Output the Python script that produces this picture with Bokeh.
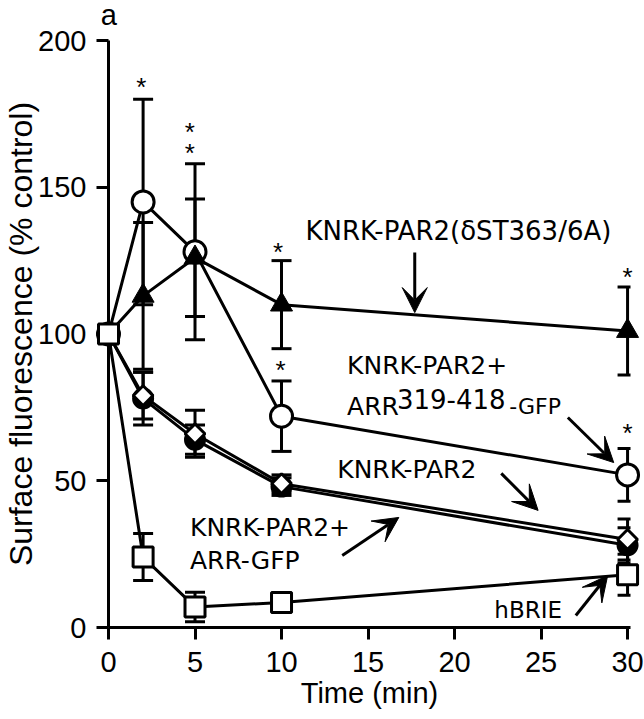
import numpy as np
from bokeh.plotting import figure
from bokeh.models import (Range1d, FixedTicker, Whisker, TeeHead, ColumnDataSource,
                          Label, Arrow, VeeHead)
from bokeh.core.properties import value
from bokeh.embed import file_html
from bokeh.resources import INLINE

# ---------------- data ----------------
time_min = [0, 2, 5, 10, 30]
x_ticks = [0, 5, 10, 15, 20, 25, 30]
y_ticks = [0, 50, 100, 150, 200]

arr319_mean = [100, 145, 128, 72, 52]     # KNRK-PAR2 + ARR319-418-GFP (open circle)
arr319_err = [0, 35, 30, 12, 9]
dst_mean = [100, 113, 126, 110, 101]      # KNRK-PAR2(dST363/6A) (filled triangle)
dst_err = [0, 25, 20, 15, 15]
arrgfp_mean = [100, 79, 66, 49, 30]       # KNRK-PAR2 + ARR-GFP (open diamond)
arrgfp_err = [0, 8, 8, 3, 7]
par2_mean = [100, 78, 64, 48, 28]         # KNRK-PAR2 (filled circle)
par2_err = [0, 9, 5, 3, 6]
hbrie_mean = [100, 24, 7, 8.5, 18]        # hBRIE (open square)
hbrie_err = [0, 8, 5, 3, 7]

star_t = [1.9, 4.7, 4.7, 9.8, 9.95, 30, 30]
star_v = [185.7, 170.4, 163.5, 129.5, 89.3, 121, 68]

FONT_TICK = "Liberation Sans"
FONT_NOTE = "DejaVu Sans"

p = figure(width=644, height=719, output_backend="svg", toolbar_location=None,
           x_range=Range1d(0, 30.17), y_range=Range1d(0, 200),
           min_border_left=105, min_border_right=14, min_border_top=40, min_border_bottom=92,
           background_fill_color="white", border_fill_color="white")
p.outline_line_color = None
p.grid.visible = False

for ax in (p.xaxis[0], p.yaxis[0]):
    ax.axis_line_width = 3
    ax.major_tick_line_width = 3
    ax.major_tick_out = 12
    ax.major_tick_in = 0
    ax.minor_tick_out = 0
    ax.minor_tick_in = 0
    ax.major_label_text_font = FONT_TICK
    ax.major_label_text_font_size = "29px"
    ax.major_label_text_color = "black"
    ax.axis_label_text_font = FONT_TICK
    ax.axis_label_text_font_style = "normal"
    ax.axis_label_text_color = "black"

p.xaxis.ticker = FixedTicker(ticks=x_ticks)
p.yaxis.ticker = FixedTicker(ticks=y_ticks)
p.xaxis.axis_label = "Time (min)"
p.xaxis.axis_label_text_font_size = "29px"
p.xaxis.major_label_standoff = 12
p.xaxis.axis_label_standoff = 2
p.yaxis.axis_label = "Surface fluorescence (% control)"
p.yaxis.axis_label_text_font_size = "32px"
p.yaxis.major_label_standoff = 10
p.yaxis.axis_label_standoff = -4

series = [
    (par2_mean, par2_err, dict(marker="circle", size=20, fill_color="black", line_color="black", line_width=2)),
    (arrgfp_mean, arrgfp_err, dict(marker="square", size=14, angle=np.pi / 4, fill_color="white", line_color="black", line_width=3)),
    (arr319_mean, arr319_err, dict(marker="circle", size=22, fill_color="white", line_color="black", line_width=3)),
    (dst_mean, dst_err, dict(marker="triangle", size=22, fill_color="black", line_color="black", line_width=1)),
    (hbrie_mean, hbrie_err, dict(marker="square", size=20, fill_color="white", line_color="black", line_width=3)),
]

# connecting lines
for mean, err, st in series:
    p.line(time_min, mean, line_color="black", line_width=3)

# error bars
for mean, err, st in series:
    b = [t for t, e in zip(time_min, err) if e > 0]
    up = [m + e for m, e in zip(mean, err) if e > 0]
    lo = [m - e for m, e in zip(mean, err) if e > 0]
    src = ColumnDataSource(dict(base=b, upper=up, lower=lo))
    w = Whisker(source=src, base="base", upper="upper", lower="lower", dimension="height",
                line_width=3, line_color="black",
                upper_head=TeeHead(size=20, line_width=3, line_color="black"),
                lower_head=TeeHead(size=20, line_width=3, line_color="black"))
    p.add_layout(w)

# markers
for mean, err, st in series:
    p.scatter(time_min, mean, level="overlay", **st)

# significance stars
p.text(star_t, star_v, text=["*"] * len(star_t), text_font=value(FONT_TICK),
       text_font_size="26px", text_align="center", text_baseline="middle",
       y_offset=5, text_color="black", level="overlay")

# panel letter (drawn above the frame)
p.text([-0.45], [206.1], text=["a"], text_font=value(FONT_TICK), text_font_size="29px",
       text_align="left", text_baseline="alphabetic", y_offset=-8,
       text_color="black", level="overlay")


def note(x, y, txt, size="25px"):
    p.add_layout(Label(x=x, y=y, y_offset=8, text=txt, text_font=FONT_NOTE, text_font_size=size,
                       text_baseline="alphabetic", text_align="left", text_color="black"))


def arrow(x0, y0, x1, y1):
    p.add_layout(Arrow(end=VeeHead(size=25, fill_color="black", line_color="black", line_width=1),
                       x_start=x0, y_start=y0, x_end=x1, y_end=y1,
                       line_width=3, line_color="black"))


note(11.38, 132.5, "KNRK-PAR2(\u03b4ST363/6A)", size="26px")
arrow(17.70, 127.8, 17.70, 107.3)

note(13.79, 86.5, "KNRK-PAR2+")
note(13.79, 72.7, "ARR")
note(16.67, 75.0, "319-418", size="26px")
note(23.16, 72.7, "-GFP", size="22px")
arrow(26.55, 71.55, 29.2, 56.2)

note(13.22, 51.1, "KNRK-PAR2")
arrow(22.70, 52.5, 24.83, 39.9)

note(4.71, 31.3, "KNRK-PAR2+")
note(4.71, 20.1, "ARR-GFP")
arrow(13.51, 24.5, 16.78, 37.5)

note(22.3, 3.4, "hBRIE", size="23px")
arrow(27.01, 4.1, 28.85, 17.7)

open("out.html", "w").write(file_html(p, INLINE))
